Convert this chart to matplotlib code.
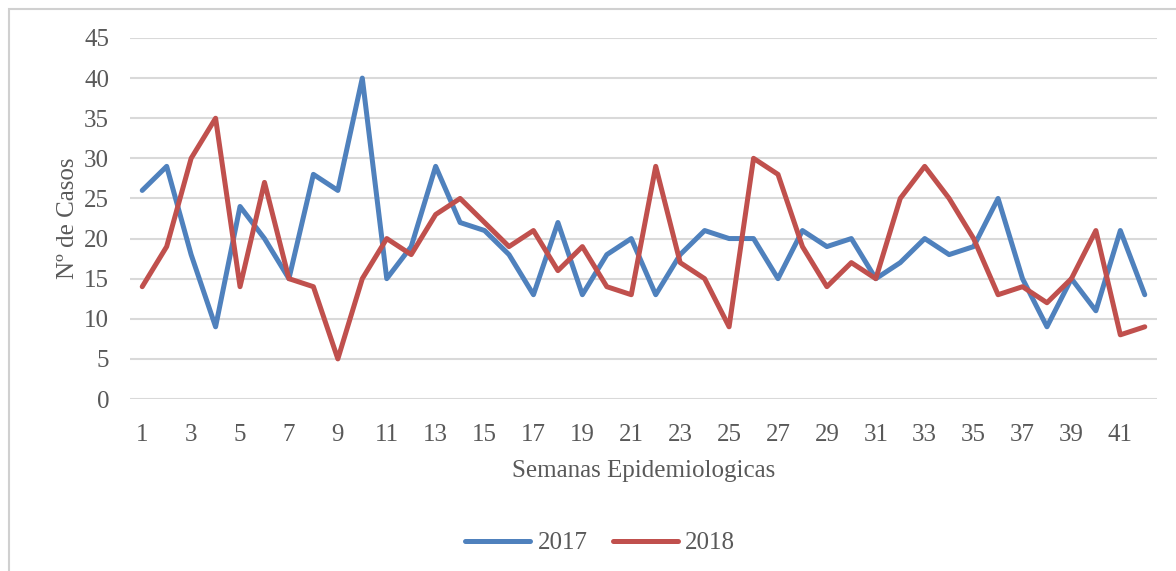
import matplotlib.pyplot as plt
from matplotlib.patches import Rectangle

semanas = list(range(1, 43))
casos_2017 = [26, 29, 18, 9, 24, 20, 15, 28, 26, 40, 15, 19, 29, 22, 21, 18, 13, 22, 13, 18, 20,
              13, 18, 21, 20, 20, 15, 21, 19, 20, 15, 17, 20, 18, 19, 25, 15, 9, 15, 11, 21, 13]
casos_2018 = [14, 19, 30, 35, 14, 27, 15, 14, 5, 15, 20, 18, 23, 25, 22, 19, 21, 16, 19, 14, 13,
              29, 17, 15, 9, 30, 28, 19, 14, 17, 15, 25, 29, 25, 20, 13, 14, 12, 15, 21, 8, 9]
x_ticks = list(range(1, 43, 2))
y_ticks = list(range(0, 46, 5))

plt.rcParams['font.family'] = ['Liberation Serif', 'DejaVu Serif']
txt = '#595959'

fig = plt.figure(figsize=(11.76, 5.71), dpi=100)
ax = fig.add_axes([130 / 1176, 172 / 571, 1027 / 1176, 361 / 571])

# chart border (Excel chart area)
fig.patches.append(Rectangle((9 / 1176, -0.1), 1.2, 1 - 9 / 571 + 0.1, transform=fig.transFigure,
                             fill=False, edgecolor='#d0d0d0', linewidth=1.5))

ax.plot(semanas, casos_2017, color='#4F81BD', linewidth=3.6, label='2017',
        solid_joinstyle='round', solid_capstyle='round', clip_on=False, zorder=3)
ax.plot(semanas, casos_2018, color='#C0504D', linewidth=3.6, label='2018',
        solid_joinstyle='round', solid_capstyle='round', clip_on=False, zorder=3)

ax.set_xlim(0.5, 42.5)
ax.set_ylim(0, 45)
ax.set_xticks(x_ticks)
ax.set_yticks(y_ticks)
ax.tick_params(length=0, labelsize=18, labelcolor=txt)
ax.tick_params(axis='y', pad=15)
ax.tick_params(axis='x', pad=18)
ax.grid(axis='y', color='#d9d9d9', linewidth=1.5)
ax.set_axisbelow(True)
for s in ax.spines.values():
    s.set_visible(False)

ax.set_xlabel('Semanas Epidemiologicas', fontsize=18, color=txt, labelpad=10)
ax.set_ylabel('Nº de Casos', fontsize=18, color=txt, labelpad=4)

fig.legend(loc='center', bbox_to_anchor=(600 / 1176, 1 - 543 / 571), ncol=2, frameon=False,
           fontsize=18, labelcolor=txt, handlelength=2.6, columnspacing=1.0, handletextpad=0.3)

fig.savefig('out.png', dpi=100)
